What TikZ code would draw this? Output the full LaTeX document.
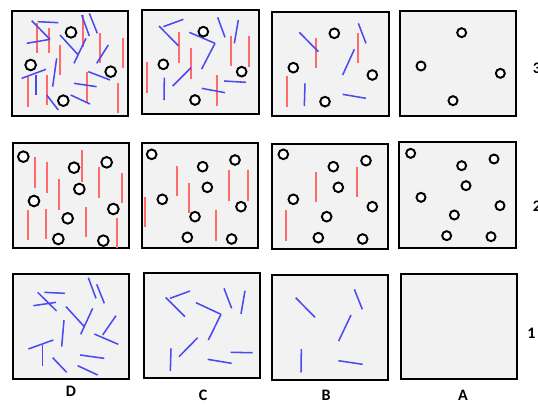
\documentclass[tikz,border=0pt]{standalone}
\usepackage{fontspec}
\setmainfont{Carlito}
\definecolor{panelgray}{HTML}{F2F2F2}
\definecolor{redln}{HTML}{FF6A6A}
\definecolor{blueln}{HTML}{4A4AF2}
\begin{document}
\begin{tikzpicture}[x=0.75pt,y=-0.75pt,
  panel/.style={fill=panelgray,draw=black,line width=1.5pt},
  redbar/.style={fill=redln},
  blueline/.style={draw=blueln,line width=1.15pt},
  ring/.style={fill=white,draw=black,line width=1.45pt},
  lbl/.style={font=\bfseries\fontsize{12}{13}\selectfont,inner sep=0pt}]
\useasboundingbox (0,0) rectangle (538,404);
\clip (0,0) rectangle (538,404);
\fill[white] (0,0) rectangle (538,404);
% vertical red rods are drawn as thin filled bars (x, top, bottom)
\def\rods#1{\foreach \x/\ya/\yb in {#1}
  \fill[redbar] ({\x-3},\ya) rectangle ({\x+3},\yb);}

% ---------- row 3 ----------
\begin{scope}[shift={(0,0)},scale=1/3]
  \draw[panel] (35,32) rectangle (385,348);
  \rods{112/70/160,147/85/160,180/135/225,248/45/140,300/100/190,
        370/115/205,85/230/320,140/225/315,262/215/305,355/250/340}
  \foreach \xa/\ya/\xb/\yb in {113/65/175/68,95/62/150/118,80/130/150/118,245/45/268/108,
      268/40/292/100,180/105/235/165,222/190/258/115,290/190/325/135,65/235/138/208,
      108/225/108/285,158/260/170/175,265/215/330/240,222/250/290/260,140/285/175/330,
      212/285/270/312}
    \draw[blueline] (\xa,\ya) -- (\xb,\yb);
  \foreach \x/\y in {213/97,92/195,332/215,190/302}
    \draw[ring] (\x,\y) circle (16);
\end{scope}

\begin{scope}[shift={(135,0)},scale=1/3]
  \draw[panel] (22,30) rectangle (373,342);
  \rods{132/95/188,167/145/237,37/185/278,287/108/198,343/108/200,245/225/318}
  \foreach \xa/\ya/\xb/\yb in {85/80/145/58,72/78/130/137,163/97/240/130,240/130/200/207,
      248/52/270/112,310/60/298/130,113/258/168/203,88/233/87/300,267/243/333/247,
      200/265/270/278}
    \draw[blueline] (\xa,\ya) -- (\xb,\yb);
  \foreach \x/\y in {205/95,85/193,320/215,180/300}
    \draw[ring] (\x,\y) circle (14.5);
\end{scope}

\begin{scope}[shift={(265,0)},scale=1/3]
  \draw[panel] (22,35) rectangle (372,348);
  \rods{153/113/205,278/98/190,65/227/320}
  \foreach \xa/\ya/\xb/\yb in {103/97/160/155,280/70/303/130,268/148/233/225,
      120/250/118/318,233/283/303/295}
    \draw[blueline] (\xa,\ya) -- (\xb,\yb);
  \foreach \x/\y in {208/100,85/203,322/225,180/305}
    \draw[ring] (\x,\y) circle (14.5);
\end{scope}

\begin{scope}[shift={(395,0)},scale=1/3]
  \draw[panel] (15,32) rectangle (362,347);
  \foreach \x/\y in {200/98,78/198,316/220,174/302}
    \draw[ring] (\x,\y) circle (13.5);
\end{scope}

% ---------- row 2 ----------
\begin{scope}[shift={(0,135)},scale=1/3]
  \draw[panel] (40,25) rectangle (388,340);
  \rods{105/65/158,140/82/175,177/133/225,245/45/140,297/97/188,
        365/113/205,83/225/315,137/222/313,257/215/307,350/248/338}
  \foreach \x/\y in {70/65,222/98,320/82,238/162,102/198,340/222,203/250,175/312,310/317}
    \draw[ring] (\x,\y) circle (16);
\end{scope}

\begin{scope}[shift={(135,135)},scale=1/3]
  \draw[panel] (20,23) rectangle (370,340);
  \rods{127/92/183,163/143/235,30/185/277,283/105/197,340/105/197,242/225/317}
  \foreach \x/\y in {50/58,203/95,300/75,217/157,82/193,318/215,180/245,157/307,290/312}
    \draw[ring] (\x,\y) circle (14.5);
\end{scope}

\begin{scope}[shift={(265,135)},scale=1/3]
  \draw[panel] (22,27) rectangle (370,342);
  \rods{152/112/202,277/95/185,63/225/317}
  \foreach \x/\y in {55/58,205/95,303/77,220/157,85/193,322/215,185/245,160/308,293/312}
    \draw[ring] (\x,\y) circle (14.5);
\end{scope}

\begin{scope}[shift={(395,135)},scale=1/3]
  \draw[panel] (13,22) rectangle (362,340);
  \foreach \x/\y in {47/55,200/92,297/72,213/152,78/187,315/212,178/240,155/302,288/305}
    \draw[ring] (\x,\y) circle (13.5);
\end{scope}

% ---------- row 1 ----------
\begin{scope}[shift={(0,265)},scale=1/3]
  \draw[panel] (38,28) rectangle (387,343);
  \foreach \xa/\ya/\xb/\yb in {133/82/195/85,113/82/170/138,100/122/168/112,265/38/288/100,
      290/58/313/115,198/125/253/185,242/208/278/130,308/210/348/152,85/252/160/225,
      128/240/128/303,185/245/192/165,283/207/355/238,240/270/313/280,158/278/200/322,
      233/302/293/330}
    \draw[blueline] (\xa,\ya) -- (\xb,\yb);
\end{scope}

\begin{scope}[shift={(135,265)},scale=1/3]
  \draw[panel] (27,25) rectangle (375,340);
  \foreach \xa/\ya/\xb/\yb in {105/100/165/78,92/97/150/155,183/113/258/148,258/148/220/225,
      267/70/290/130,330/77/318/147,132/275/188/218,108/250/106/318,287/262/353/263,
      218/283/290/295}
    \draw[blueline] (\xa,\ya) -- (\xb,\yb);
\end{scope}

\begin{scope}[shift={(265,265)},scale=1/3]
  \draw[panel] (22,30) rectangle (370,345);
  \foreach \xa/\ya/\xb/\yb in {92/98/150/157,268/73/292/133,258/150/221/228,
      109/252/108/322,220/287/293/298}
    \draw[blueline] (\xa,\ya) -- (\xb,\yb);
\end{scope}

\begin{scope}[shift={(395,265)},scale=1/3]
  \draw[panel] (18,28) rectangle (365,342);
\end{scope}

% ---------- column and row labels ----------
\node[lbl] (colD) at (71,391) {D};
\node[lbl] (colC) at (203,395) {C};
\node[lbl] (colB) at (326,395) {B};
\node[lbl] (colA) at (463,395.5) {A};
\node[lbl] (row3) at (537,68) {3};
\node[lbl] (row2) at (537,206) {2};
\node[lbl] (row1) at (531.5,333) {1};
\end{tikzpicture}
\end{document}
